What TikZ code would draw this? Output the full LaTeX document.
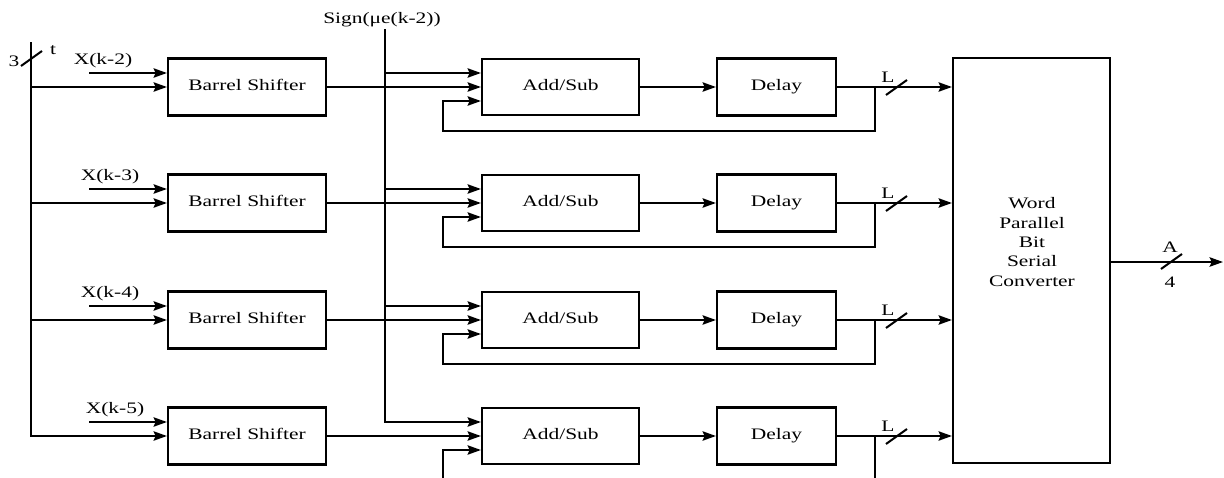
\documentclass[tikz,border=0pt]{standalone}
\usepackage{fontspec}
\setmainfont{Liberation Serif}[FakeStretch=1.34]
\usetikzlibrary{arrows.meta}
\begin{document}
\begin{tikzpicture}[x=0.75pt,y=-0.75pt, line width=1.5pt,
  arr/.style={-{Stealth[length=10pt,width=7pt,inset=1.5pt]}},
  blk/.style={draw, line width=1.6pt, inner sep=0pt, font=\fontsize{12}{14.6}\selectfont, align=center, text height=8.4pt, text depth=2.6pt},
  lbl/.style={inner sep=0pt, font=\fontsize{12}{14}\selectfont}]
\useasboundingbox (0,0) rectangle (1224,478);

% converter
\node[draw, line width=1.6pt, inner sep=0pt, minimum width=117.75pt, minimum height=303.75pt] (cv) at (1031.5,260.5) {};
\node[lbl, align=center, font=\fontsize{12}{14.6}\selectfont] (cvt) at (1032,242) {Word\\Parallel\\Bit\\Serial\\Converter};

% sign input
\node[lbl] (sign) at (382,20) {Sign(μe(k-2))};
\coordinate (stop) at (385,30);

% bus
\coordinate (btop) at (31,43);

\foreach \i/\yc/\lab/\lx in {1/87/X(k-2)/103, 2/203/X(k-3)/110, 3/320/X(k-4)/110, 4/436/X(k-5)/115}{
  \node[blk, minimum width=118.5pt, minimum height=42.75pt] (bs\i) at (247,\yc) {Barrel Shifter};
  \node[blk, minimum width=117.75pt, minimum height=42pt] (as\i) at (560.5,\yc) {Add/Sub};
  \node[blk, minimum width=89.25pt, minimum height=42.75pt] (dl\i) at (776.5,\yc) {Delay};
  \coordinate (xs\i) at (89,\yc-14);
  \draw[arr] (xs\i) -- (xs\i -| bs\i.west);
  \node[lbl] (xl\i) at (\lx,\yc-26) {\lab};
  \coordinate (bus\i) at (31,\yc);
  \draw[arr] (bus\i) -- (bs\i.west);
  \coordinate (sg\i) at (385,\yc-14);
  \draw[arr] (sg\i) -- (sg\i -| as\i.west);
  \draw[arr] (bs\i.east) -- (as\i.west);
  \draw[arr] (as\i.east) -- (dl\i.west);
  \coordinate (br\i) at (875,\yc);
  \draw[arr] (dl\i.east) -- (br\i) -- (br\i -| cv.west);
  \draw ([shift={(11,8)}]br\i) -- ([shift={(32,-7)}]br\i);
  \node[lbl] (ll\i) at (888,\yc-10) {L};
  \coordinate (fb\i) at (443,\yc+14);
}
\foreach \i/\yc in {1/87, 2/203, 3/320}{
  \draw[arr] (br\i) -- (875,\yc+44) -- (443,\yc+44) -- (fb\i) -- (fb\i -| as\i.west);
}
\coordinate (fbo) at (875,480);
\coordinate (fbi) at (443,480);
\draw (br4) -- (fbo);
\draw[arr] (fbi) -- (fb4) -- (fb4 -| as4.west);

\draw[line cap=rect] (stop) -- (sg4);
\draw[line cap=rect] (btop) -- (bus4);

% bus width marker
\draw (21,66) -- (42,51);
\node[lbl] (n3) at (14,61) {3};
\node[lbl] (nt) at (53,50) {t};

% output
\coordinate (out) at (1223,262);
\draw[arr] (cv.east |- out) -- (out);
\draw (1161,269) -- (1182,254);
\node[lbl] (na) at (1170,247) {A};
\node[lbl] (n4) at (1170,282) {4};
\end{tikzpicture}
\end{document}
